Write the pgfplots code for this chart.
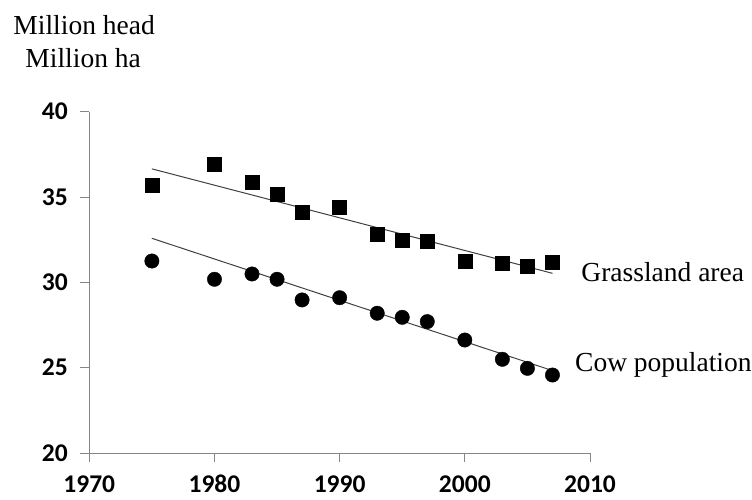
\documentclass[border=0pt]{standalone}
\usepackage{pgfplots}
\pgfplotsset{compat=1.18}
\usepackage{fontspec}
\setmainfont{Liberation Serif}
\newfontfamily\calibrib{Carlito}[UprightFont={* Bold}]
\definecolor{axgray}{HTML}{868686}
\begin{document}
\begin{tikzpicture}
\useasboundingbox (-89.3pt,-46pt) rectangle (662.7pt,453pt);
\begin{axis}[
  at={(0pt,0pt)}, anchor=south west,
  scale only axis, width=500.7pt, height=341.3pt,
  xmin=1970, xmax=2010, ymin=20, ymax=40,
  axis x line*=bottom, axis y line*=left,
  axis line style={axgray, line width=0.9pt, -},
  xtick={1970,1980,1990,2000,2010},
  ytick={20,25,30,35,40},
  tick style={axgray, line width=0.9pt},
  tick align=outside,
  major tick length=9pt,
  x tick label style={font=\calibrib\fontsize{25.5}{30}\selectfont, anchor=base, inner sep=0pt, text height=16pt, text depth=0pt},
  y tick label style={font=\calibrib\fontsize{25.5}{30}\selectfont, xshift=-9pt},
  /pgf/number format/assume math mode=true,
  xticklabel={\pgfmathprintnumber[1000 sep={}]{\tick}},
  every x tick label/.append style={yshift=-30pt},
  clip=false,
]
% trend lines
\addplot[black!75, line width=1pt, no marks] coordinates {(1975,36.65) (2007,30.53)};
\addplot[black!75, line width=1pt, no marks] coordinates {(1975,32.58) (2007,24.83)};
% grassland area (squares)
\addplot[only marks, mark=square*, mark size=7pt, black] coordinates {
(1975,35.70) (1980,36.94) (1983,35.84) (1985,35.16) (1987,34.14) (1990,34.42)
(1993,32.84) (1995,32.45) (1997,32.39) (2000,31.25) (2003,31.12) (2005,30.92) (2007,31.21)};
% cow population (circles)
\addplot[only marks, mark=*, mark size=7.2pt, black] coordinates {
(1975,31.25) (1980,30.18) (1983,30.49) (1985,30.18) (1987,28.97) (1990,29.10)
(1993,28.19) (1995,27.95) (1997,27.70) (2000,26.62) (2003,25.49) (2005,24.96) (2007,24.57)};
\node[anchor=base west, inner sep=0pt, font=\fontsize{27.5}{32}\selectfont] at (axis cs:2009.3,30.04) {Grassland area};
\node[anchor=base west, inner sep=0pt, font=\fontsize{27.5}{32}\selectfont] at (axis cs:2008.8,24.77) {Cow population};
\end{axis}
\node[anchor=base west, inner sep=0pt, font=\fontsize{27.5}{32}\selectfont] at (-76pt,418pt) {Million head};
\node[anchor=base west, inner sep=0pt, font=\fontsize{27.5}{32}\selectfont] at (-64pt,385pt) {Million ha};
\end{tikzpicture}
\end{document}
